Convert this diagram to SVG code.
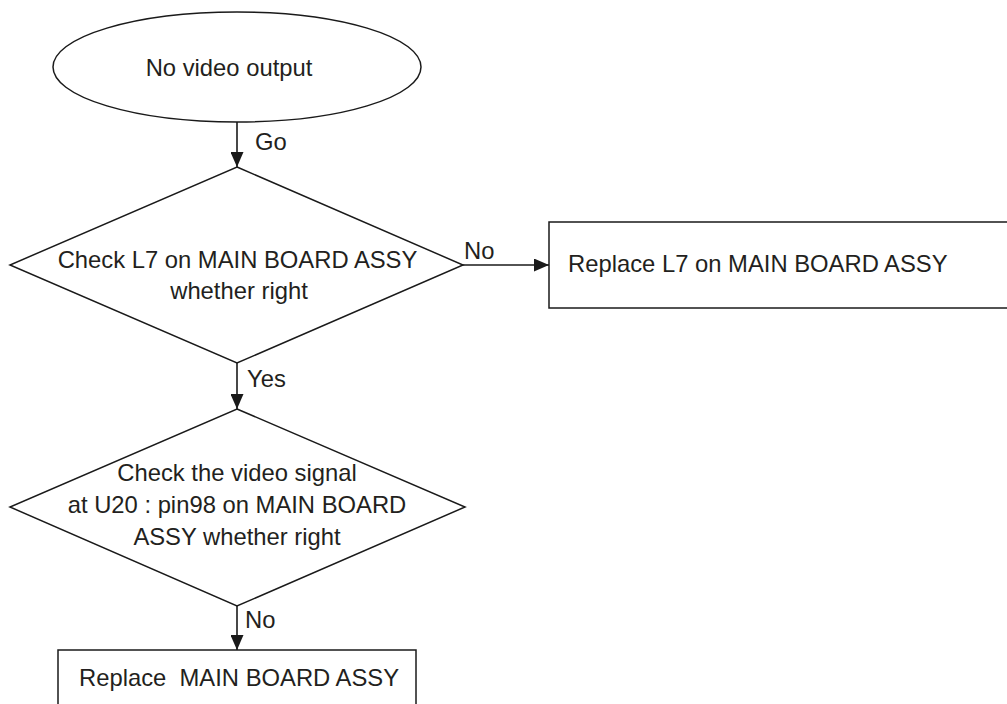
<svg xmlns="http://www.w3.org/2000/svg" width="1007" height="704" viewBox="0 0 1007 704">
<style>
.s{fill:#fff;stroke:#1a1a1a;stroke-width:1.5}
.c{fill:none;stroke:#1a1a1a;stroke-width:1.6}
text{font-family:"Liberation Sans",Arial,sans-serif;font-size:23.8px;fill:#231f20}
.m{text-anchor:middle}
</style>
<defs>
<marker id="ah" viewBox="0 0 15 13" refX="15" refY="6.5" markerWidth="15" markerHeight="13" orient="auto" markerUnits="userSpaceOnUse">
<path d="M0,0 L15,6.5 L0,13 z" fill="#1a1a1a"/>
</marker>
</defs>
<rect width="1007" height="704" fill="#fff"/>
<g id="connectors">
<line class="c" x1="237" y1="122" x2="237" y2="167" marker-end="url(#ah)"/>
<line class="c" x1="463" y1="265" x2="549" y2="265" marker-end="url(#ah)"/>
<line class="c" x1="237" y1="363" x2="237" y2="409" marker-end="url(#ah)"/>
<line class="c" x1="237" y1="606" x2="237" y2="650" marker-end="url(#ah)"/>
<text x="255" y="150">Go</text>
<text x="464" y="259">No</text>
<text x="247" y="387">Yes</text>
<text x="245" y="628">No</text>
</g>
<g id="start">
<ellipse class="s" cx="237" cy="67" rx="184" ry="55"/>
<text class="m" x="229" y="76">No video output</text>
</g>
<g id="check-l7">
<polygon class="s" points="237,167 463,265 237,363 10,265"/>
<text class="m" x="237.5" y="268">Check L7 on MAIN BOARD ASSY</text>
<text class="m" x="239" y="299">whether right</text>
</g>
<g id="replace-l7">
<rect class="s" x="549" y="222" width="470" height="86"/>
<text x="568" y="272">Replace L7 on MAIN BOARD ASSY</text>
</g>
<g id="check-signal">
<polygon class="s" points="237,409 465,507 237,606 10,507"/>
<text class="m" x="237" y="481">Check the video signal</text>
<text class="m" x="237" y="513">at U20 : pin98 on MAIN BOARD</text>
<text class="m" x="237" y="545">ASSY whether right</text>
</g>
<g id="replace-board">
<rect class="s" x="58" y="650" width="358" height="70"/>
<text x="79" y="686" xml:space="preserve">Replace  MAIN BOARD ASSY</text>
</g>
</svg>
